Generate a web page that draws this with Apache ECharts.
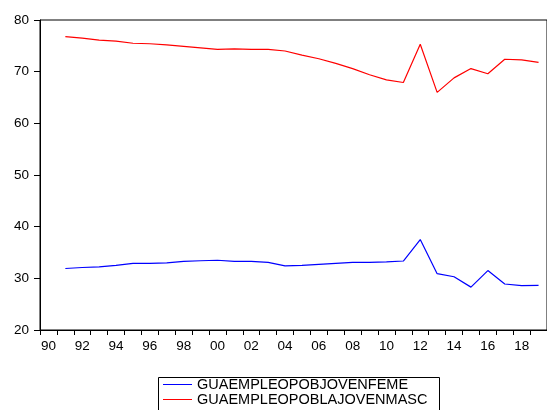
<!DOCTYPE html>
<html>
<head>
<meta charset="utf-8">
<script src="https://cdn.jsdelivr.net/npm/echarts@6/dist/echarts.min.js"></script>
<style>
html,body{margin:0;padding:0;background:#fff;}
#chart{width:547px;height:410px;}
</style>
</head>
<body>
<div id="chart"></div>
<script>
var years = ['1990','1991','1992','1993','1994','1995','1996','1997','1998','1999','2000','2001','2002','2003','2004','2005','2006','2007','2008','2009','2010','2011','2012','2013','2014','2015','2016','2017','2018','2019'];
var femeName = 'GUAEMPLEOPOBJOVENFEME';
var mascName = 'GUAEMPLEOPOBLAJOVENMASC';
var feme = [null,31.9,32.1,32.2,32.5,32.9,32.9,33.0,33.3,33.4,33.5,33.3,33.3,33.1,32.4,32.5,32.7,32.9,33.1,33.1,33.2,33.35,37.5,30.9,30.3,28.3,31.5,28.9,28.6,28.65];
var masc = [null,76.8,76.5,76.1,75.9,75.5,75.4,75.2,74.9,74.6,74.3,74.4,74.3,74.3,74.0,73.2,72.5,71.6,70.6,69.4,68.4,67.9,75.3,66.0,68.8,70.6,69.6,72.4,72.3,71.8];
var yTicks = {min:20, max:80, interval:10};

var font = 'Liberation Sans, Arial, sans-serif';
var legendCommon = {
  orient:'horizontal', padding:0,
  itemWidth:29, itemHeight:1, icon:'rect',
  textStyle:{fontFamily:font, fontSize:14.5, color:'#000', padding:[0,0,0,0]}
};
var chart = echarts.init(document.getElementById('chart'), null, {renderer:'canvas'});
chart.setOption({
  animation:false,
  backgroundColor:'#fff',
  grid:{left:40, top:20, width:516, height:310, show:true, borderColor:'#000', borderWidth:1, backgroundColor:'transparent'},
  graphic:[{type:'rect', left:156, top:375, shape:{width:281, height:60}, style:{fill:'none', stroke:'#000', lineWidth:1}, silent:true}],
  legend:[
    Object.assign({}, legendCommon, {left:163, top:377, data:[{name:femeName}]}),
    Object.assign({}, legendCommon, {left:163, top:392, data:[{name:mascName}]})
  ],
  xAxis:{
    type:'category', data:years, boundaryGap:true,
    axisLine:{lineStyle:{color:'#000', width:1}},
    axisTick:{show:true, interval:0, length:5, inside:false, lineStyle:{color:'#000'}},
    axisLabel:{interval:1, margin:9, fontFamily:font, fontSize:13.5, color:'#000',
      formatter:function(v){return v.slice(2);}},
    splitLine:{show:false}
  },
  yAxis:{
    type:'value', min:yTicks.min, max:yTicks.max, interval:yTicks.interval,
    axisLine:{show:true, lineStyle:{color:'#000', width:1}},
    axisTick:{show:true, length:6, lineStyle:{color:'#000'}},
    axisLabel:{margin:11, fontFamily:font, fontSize:13.5, color:'#000'},
    splitLine:{show:false}
  },
  series:[
    {name:femeName, type:'line', data:feme, symbol:'none', showSymbol:false, lineStyle:{color:'#0000ff', width:1.2}, itemStyle:{color:'#0000ff'}},
    {name:mascName, type:'line', data:masc, symbol:'none', showSymbol:false, lineStyle:{color:'#ff0000', width:1.2}, itemStyle:{color:'#ff0000'}}
  ]
});
</script>
</body>
</html>
